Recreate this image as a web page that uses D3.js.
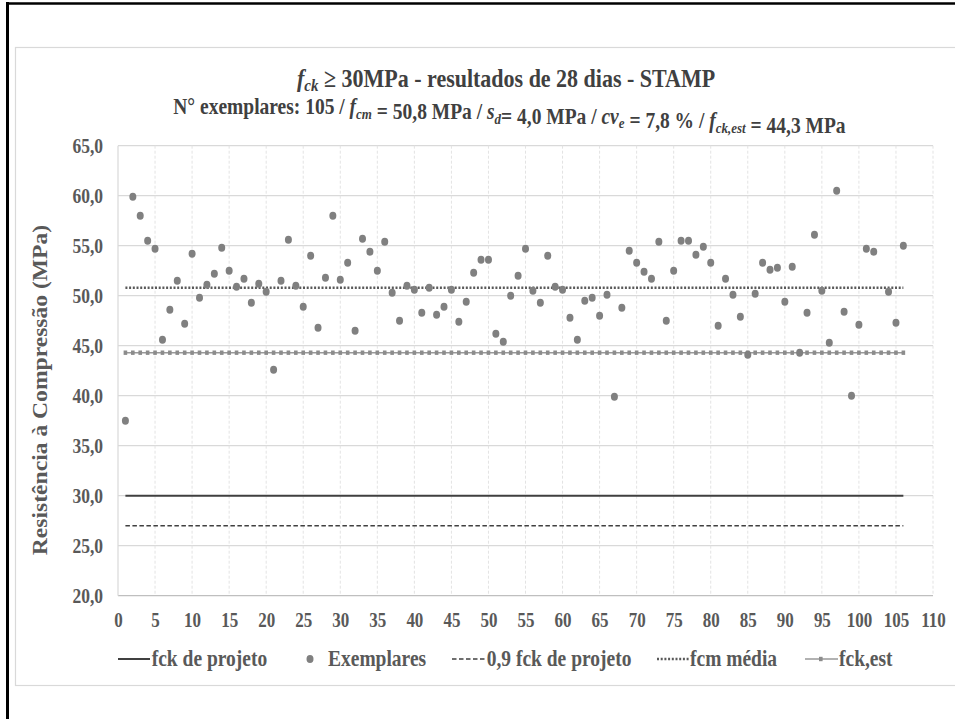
<!DOCTYPE html>
<html>
<head>
<meta charset="utf-8">
<script src="https://cdn.jsdelivr.net/npm/d3@7"></script>
<style>
  html, body { margin: 0; padding: 0; background: #fff; }
  svg { display: block; }
  text { font-family: "Liberation Serif", "Times New Roman", serif; font-weight: bold; fill: #595959; }
</style>
</head>
<body>
<svg id="chart" width="955" height="719"></svg>
<script>
// ---------------- DATA ----------------
// Exemplar number (x) -> compressive strength (MPa); null = no sample at that index
const exemplarValues = [
  37.5, 59.9, 58.0, 55.5, 54.7, 45.6, 48.6, 51.5, 47.2, 54.2,
  49.8, 51.1, 52.2, 54.8, 52.5, 50.9, 51.7, 49.3, 51.2, 50.4,
  42.6, 51.5, 55.6, 51.0, 48.9, 54.0, 46.8, 51.8, 58.0, 51.6,
  53.3, 46.5, 55.7, 54.4, 52.5, 55.4, 50.3, 47.5, 51.0, 50.6,
  48.3, 50.8, 48.1, 48.9, 50.6, 47.4, 49.4, 52.3, 53.6, 53.6,
  46.2, 45.4, 50.0, 52.0, 54.7, 50.5, 49.3, 54.0, 50.9, 50.6,
  47.8, 45.6, 49.5, 49.8, 48.0, 50.1, 39.9, 48.8, 54.5, 53.3,
  52.4, 51.7, 55.4, 47.5, 52.5, 55.5, 55.5, 54.1, 54.9, 53.3,
  47.0, 51.7, 50.1, 47.9, 44.1, 50.2, 53.3, 52.6, 52.8, 49.4,
  52.9, 44.3, 48.3, 56.1, 50.5, 45.3, 60.5, 48.4, 40.0, 47.1,
  54.7, 54.4, null, 50.4, 47.3, 55.0
];
const lineXRange = [1, 106];          // reference lines run across all exemplar indices
const fckProjeto = 30.0;
const fck09 = 27.0;
const fcmMedia = 50.8;
const fckEst = 44.3;
const yTicks = [20, 25, 30, 35, 40, 45, 50, 55, 60, 65];
const xTicks = d3.range(0, 111, 5);
const legendLabels = ["fck de projeto", "Exemplares", "0,9 fck de projeto", "fcm média", "fck,est"];

// ---------------- LAYOUT ----------------
const svg = d3.select("#chart");
const SY = 1.18; // vertical stretch of the reference text
const plot = { left: 118, right: 933, top: 145.7, bottom: 595.7 };
const x = d3.scaleLinear().domain([0, 110]).range([plot.left, plot.right]);
const y = d3.scaleLinear().domain([20, 65]).range([plot.bottom, plot.top]);
const fmt = v => d3.format(".1f")(v).replace(".", ",");

// outer frames
svg.append("rect").attr("x", 15.5).attr("y", 47.5).attr("width", 1000).attr("height", 638)
  .attr("fill", "#fff").attr("stroke", "#d9d9d9").attr("stroke-width", 1.2);
svg.append("line").attr("x1", 7.5).attr("x2", 7.5).attr("y1", 2).attr("y2", 719)
  .attr("stroke", "#000").attr("stroke-width", 3);
svg.append("line").attr("x1", 6).attr("x2", 955).attr("y1", 3.5).attr("y2", 3.5)
  .attr("stroke", "#000").attr("stroke-width", 2.5);

// ---------------- GRID ----------------
const grid = svg.append("g");
grid.selectAll("line.h").data(yTicks).join("line")
  .attr("x1", plot.left).attr("x2", plot.right)
  .attr("y1", d => y(d)).attr("y2", d => y(d))
  .attr("stroke", d => d === 20 ? "#bfbfbf" : "#d9d9d9").attr("stroke-width", 1.2);
grid.selectAll("line.v").data(xTicks.filter(d => d > 0)).join("line")
  .attr("x1", d => x(d)).attr("x2", d => x(d))
  .attr("y1", plot.top).attr("y2", plot.bottom)
  .attr("stroke", "#e3e3e3").attr("stroke-width", 1).attr("stroke-dasharray", "3,2");
svg.append("line").attr("x1", plot.left).attr("x2", plot.left)
  .attr("y1", plot.top).attr("y2", plot.bottom).attr("stroke", "#d9d9d9").attr("stroke-width", 1.2);

// ---------------- AXES ----------------
const yAxis = svg.append("g").attr("transform", `translate(${plot.left},0)`)
  .call(d3.axisLeft(y).tickValues(yTicks).tickSize(0).tickFormat(fmt));
yAxis.select(".domain").remove();
yAxis.selectAll("text")
  .attr("x", -15).attr("dy", "0.35em")
  .attr("transform", `scale(1,${SY})`)
  .style("font-family", '"Liberation Serif", serif').style("font-weight", "bold")
  .style("font-size", "17.5px").style("fill", "#595959");

const xAxis = svg.append("g").attr("transform", `translate(0,${plot.bottom})`)
  .call(d3.axisBottom(x).tickValues(xTicks).tickSize(0).tickFormat(d3.format("d")));
xAxis.select(".domain").remove();
xAxis.selectAll("text")
  .attr("y", 31 / SY).attr("dy", 0)
  .attr("transform", `scale(1,${SY})`)
  .style("font-family", '"Liberation Serif", serif').style("font-weight", "bold")
  .style("font-size", "17px").style("fill", "#595959");

// Y axis title
svg.append("text")
  .attr("transform", `translate(47,390) rotate(-90) scale(${SY},1)`)
  .attr("text-anchor", "middle")
  .style("font-size", "20px")
  .text("Resistência à Compressão (MPa)");

// ---------------- SERIES ----------------
const line = d3.line().x(d => x(d[0])).y(d => y(d[1]));
const hline = v => lineXRange.map(i => [i, v]);

svg.append("path").attr("d", line(hline(fckProjeto)))
  .attr("fill", "none").attr("stroke", "#404040").attr("stroke-width", 2);
svg.append("path").attr("d", line(hline(fck09)))
  .attr("fill", "none").attr("stroke", "#404040").attr("stroke-width", 1.6)
  .attr("stroke-dasharray", "4.5,2.5");
svg.append("path").attr("d", line(hline(fcmMedia)))
  .attr("fill", "none").attr("stroke", "#595959").attr("stroke-width", 2.4)
  .attr("stroke-dasharray", "2,1.7");

// fck,est line with a square marker at every exemplar index
const estPts = d3.range(lineXRange[0], lineXRange[1] + 1).map(i => [i, fckEst]);
svg.append("path").attr("d", line(estPts))
  .attr("fill", "none").attr("stroke", "#999999").attr("stroke-width", 1.5);
svg.append("g").selectAll("rect").data(estPts).join("rect")
  .attr("x", d => x(d[0]) - 1.8).attr("y", d => y(d[1]) - 2.2)
  .attr("width", 3.6).attr("height", 4.4).attr("fill", "#8c8c8c");

// exemplars scatter
const pts = exemplarValues.map((v, i) => [i + 1, v]).filter(d => d[1] !== null);
svg.append("g").selectAll("ellipse").data(pts).join("ellipse")
  .attr("cx", d => x(d[0])).attr("cy", d => y(d[1]))
  .attr("rx", 3.5).attr("ry", 4).attr("fill", "#808080");

// ---------------- TITLE ----------------
const t1 = svg.append("text").attr("transform", `translate(297,86.7) scale(1,${SY})`)
  .style("font-size", "22px").style("fill", "#404040");
t1.append("tspan").style("font-style", "italic").text("f");
t1.append("tspan").style("font-style", "italic").style("font-size", "15px").attr("dy", 4).text("ck");
t1.append("tspan").attr("dy", -4).text(" ≥ 30MPa - resultados de 28 dias - STAMP");

const t2 = svg.append("text").attr("transform", `translate(173.3,114.3) scale(1,${SY})`)
  .style("font-size", "19.5px").style("fill", "#404040");
const parts = [
  ["N° exemplares: 105 / ", null],
  ["f", "cm"], [" = 50,8 MPa / ", null],
  ["s", "d"], ["= 4,0 MPa / ", null],
  ["cv", "e"], [" = 7,8 % / ", null],
  ["f", "ck,est"], [" = 44,3 MPa", null]
];
parts.forEach(([main, sub]) => {
  if (sub === null) {
    t2.append("tspan").text(main);
  } else {
    t2.append("tspan").style("font-style", "italic").text(main);
    t2.append("tspan").style("font-style", "italic").style("font-size", "13px").attr("dy", 4).text(sub);
    t2.append("tspan").attr("dy", -4).text("");
  }
});

// ---------------- LEGEND ----------------
const LY = 659, LB = 665.5;
const leg = svg.append("g");
const legendText = (xx, s) => leg.append("text")
  .attr("transform", `translate(${xx},${LB}) scale(1,${SY})`)
  .style("font-size", "19.5px").text(s);

leg.append("line").attr("x1", 118).attr("x2", 150).attr("y1", LY).attr("y2", LY)
  .attr("stroke", "#404040").attr("stroke-width", 2);
legendText(151.7, legendLabels[0]);

leg.append("ellipse").attr("cx", 310).attr("cy", LY).attr("rx", 3.5).attr("ry", 4).attr("fill", "#808080");
legendText(328, legendLabels[1]);

leg.append("line").attr("x1", 452).attr("x2", 485).attr("y1", LY).attr("y2", LY)
  .attr("stroke", "#404040").attr("stroke-width", 1.6).attr("stroke-dasharray", "4.5,2.5");
legendText(486.7, legendLabels[2]);

leg.append("line").attr("x1", 657).attr("x2", 689).attr("y1", LY).attr("y2", LY)
  .attr("stroke", "#595959").attr("stroke-width", 2.4).attr("stroke-dasharray", "2,1.7");
legendText(690, legendLabels[3]);

leg.append("line").attr("x1", 805).attr("x2", 838).attr("y1", LY).attr("y2", LY)
  .attr("stroke", "#999999").attr("stroke-width", 1.5);
leg.append("rect").attr("x", 819).attr("y", LY - 2.2).attr("width", 3.6).attr("height", 4.4).attr("fill", "#8c8c8c");
legendText(839, legendLabels[4]);
</script>
</body>
</html>
